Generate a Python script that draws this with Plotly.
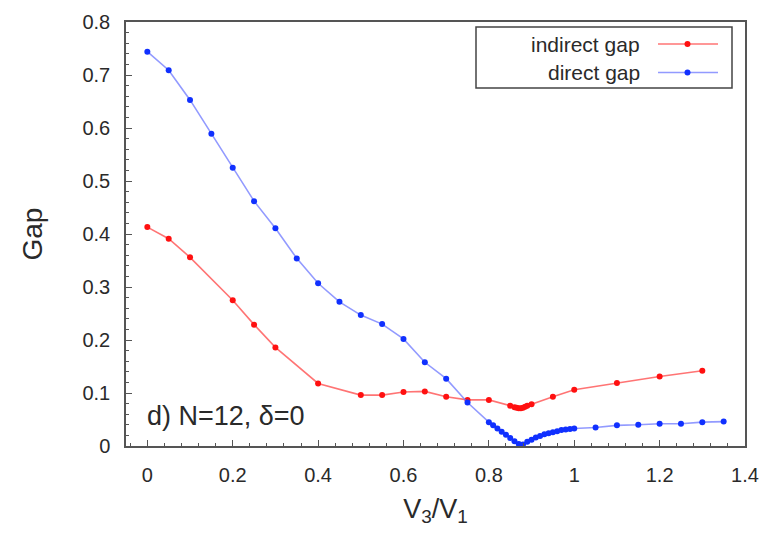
import plotly.graph_objects as go

# V3/V1 values and gaps
indirect_x = [0, 0.05, 0.1, 0.2, 0.25, 0.3, 0.4, 0.5, 0.55, 0.6, 0.65, 0.7, 0.75, 0.8,
              0.85, 0.86, 0.865, 0.87, 0.875, 0.88, 0.885, 0.89, 0.9, 0.95, 1.0, 1.1, 1.2, 1.3]
indirect_gap = [0.413, 0.391, 0.356, 0.275, 0.229, 0.186, 0.118, 0.096, 0.096, 0.102, 0.103,
                0.093, 0.087, 0.087, 0.076, 0.073, 0.072, 0.071, 0.071, 0.072, 0.074, 0.076,
                0.079, 0.093, 0.106, 0.119, 0.131, 0.142]

direct_x = [0, 0.05, 0.1, 0.15, 0.2, 0.25, 0.3, 0.35, 0.4, 0.45, 0.5, 0.55, 0.6, 0.65, 0.7, 0.75,
            0.8, 0.81, 0.82, 0.83, 0.84, 0.85, 0.86, 0.87, 0.875, 0.88, 0.89, 0.9, 0.91, 0.92,
            0.93, 0.94, 0.95, 0.96, 0.97, 0.98, 0.99, 1.0, 1.05, 1.1, 1.15, 1.2, 1.25, 1.3, 1.35]
direct_gap = [0.744, 0.709, 0.653, 0.589, 0.525, 0.462, 0.411, 0.354, 0.307, 0.272, 0.247, 0.230,
              0.202, 0.158, 0.127, 0.082, 0.045, 0.039, 0.033, 0.027, 0.021, 0.015, 0.009, 0.004,
              0.001, 0.003, 0.008, 0.012, 0.016, 0.019, 0.022, 0.024, 0.026, 0.028, 0.030, 0.031,
              0.032, 0.033, 0.035, 0.039, 0.040, 0.042, 0.042, 0.045, 0.046]

series_names = ["indirect gap", "direct gap"]

x_ticks = [0, 0.2, 0.4, 0.6, 0.8, 1.0, 1.2, 1.4]
x_tick_text = ["0", "0.2", "0.4", "0.6", "0.8", "1", "1.2", "1.4"]
y_ticks = [0, 0.1, 0.2, 0.3, 0.4, 0.5, 0.6, 0.7, 0.8]
y_tick_text = ["0", "0.1", "0.2", "0.3", "0.4", "0.5", "0.6", "0.7", "0.8"]

FONT = "Liberation Sans, Arial, sans-serif"
TXT = "#2a2a2a"
AX = "#555555"
LINE_COLORS = ["rgba(255,70,70,0.75)", "rgba(110,120,255,0.75)"]
MARKER_COLORS = ["#ff1010", "#1030ff"]

W, H = 777, 544
ML, MR, MT, MB = 118, 40, 14, 106
PW, PH = W - ML - MR, H - MT - MB


def px(fx):  # figure pixel x -> paper x
    return (fx - ML) / PW


def py(fy):  # figure pixel y -> paper y
    return (H - MB - fy) / PH


fig = go.Figure()
fig.add_trace(go.Scatter(
    x=indirect_x, y=indirect_gap, name=series_names[0], mode="lines+markers",
    line=dict(color=LINE_COLORS[0], width=1.6),
    marker=dict(color=MARKER_COLORS[0], size=6), showlegend=False))
fig.add_trace(go.Scatter(
    x=direct_x, y=direct_gap, name=series_names[1], mode="lines+markers",
    line=dict(color=LINE_COLORS[1], width=1.6),
    marker=dict(color=MARKER_COLORS[1], size=6), showlegend=False))

# key box in the style of the original (label on the left, sample on the right)
shapes = [dict(type="rect", xref="paper", yref="paper",
               x0=px(468), x1=px(724), y0=py(80), y1=py(19),
               line=dict(color="#444444", width=1.5), fillcolor="white", layer="above")]
annotations = []
for i, name in enumerate(series_names):
    fy = 36 + 28.5 * i
    annotations.append(dict(x=px(634), y=py(fy), xref="paper", yref="paper",
                            xanchor="right", yanchor="middle", text=name, showarrow=False,
                            font=dict(family=FONT, size=21, color=TXT)))
    shapes.append(dict(type="line", xref="paper", yref="paper", x0=px(650), x1=px(710),
                       y0=py(fy), y1=py(fy), line=dict(color=LINE_COLORS[i], width=1.6),
                       layer="above"))
    shapes.append(dict(type="circle", xref="paper", yref="paper", x0=px(676.5), x1=px(682.5),
                       y0=py(fy + 3), y1=py(fy - 3), line=dict(width=0),
                       fillcolor=MARKER_COLORS[i], layer="above"))

annotations.append(dict(x=0.03, y=0.03, xref="paper", yref="paper", xanchor="left",
                        yanchor="bottom", text="d) N=12, δ=0", showarrow=False,
                        font=dict(family=FONT, size=27, color=TXT)))

axis_common = dict(
    showline=True, linecolor=AX, linewidth=1.5, mirror=True,
    ticks="inside", ticklen=6, tickcolor=AX, showgrid=False, zeroline=False,
    tickfont=dict(family=FONT, size=20, color=TXT),
)

fig.update_xaxes(range=[-0.05, 1.4], tickmode="array", tickvals=x_ticks, ticktext=x_tick_text,
                 minor=dict(dtick=0.04, tick0=0, ticks="inside", ticklen=3, tickcolor=AX),
                 ticklabelstandoff=10,
                 title=dict(text="V<sub>3</sub>/V<sub>1</sub>", font=dict(family=FONT, size=27, color=TXT),
                            standoff=14),
                 **axis_common)
fig.update_yaxes(range=[0, 0.8], tickmode="array", tickvals=y_ticks, ticktext=y_tick_text,
                 minor=dict(dtick=0.02, tick0=0, ticks="inside", ticklen=3, tickcolor=AX),
                 ticklabelstandoff=10,
                 title=dict(text="Gap", font=dict(family=FONT, size=28, color=TXT), standoff=32),
                 **axis_common)

fig.update_layout(
    width=W, height=H,
    margin=dict(l=ML, r=MR, t=MT, b=MB, autoexpand=False),
    paper_bgcolor="white", plot_bgcolor="white",
    showlegend=False,
    shapes=shapes, annotations=annotations,
)

fig.write_html("out.html")
